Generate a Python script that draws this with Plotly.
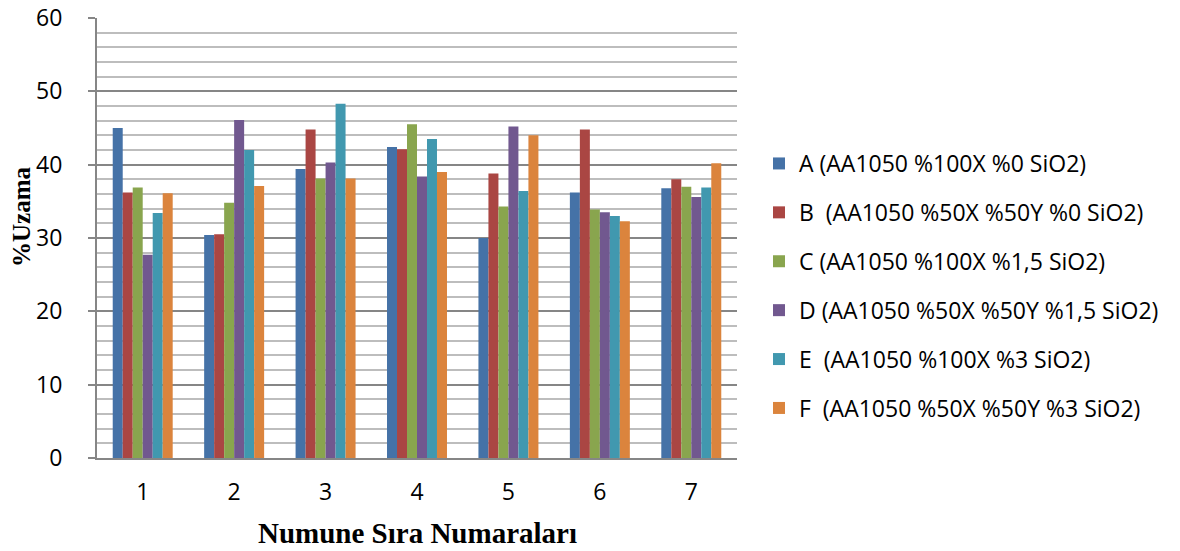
import plotly.graph_objects as go

categories = ["1", "2", "3", "4", "5", "6", "7"]
series_names = [
    "A (AA1050 %100X %0 SiO2)",
    "B  (AA1050 %50X %50Y %0 SiO2)",
    "C (AA1050 %100X %1,5 SiO2)",
    "D (AA1050 %50X %50Y %1,5 SiO2)",
    "E  (AA1050 %100X %3 SiO2)",
    "F  (AA1050 %50X %50Y %3 SiO2)",
]
A = [45.0, 30.4, 39.4, 42.4, 30.0, 36.2, 36.8]
B = [36.2, 30.5, 44.8, 42.1, 38.8, 44.8, 38.0]
C = [36.9, 34.8, 38.1, 45.5, 34.3, 33.9, 37.0]
D = [27.7, 46.1, 40.3, 38.4, 45.2, 33.5, 35.6]
E = [33.4, 42.0, 48.3, 43.5, 36.4, 33.0, 36.9]
F = [36.1, 37.1, 38.1, 39.0, 44.0, 32.3, 40.2]
colors = ["#4572A7", "#AA4643", "#89A54E", "#71588F", "#4198AF", "#DB843D"]

fig = go.Figure()
for name, vals, col, grp in zip(series_names, [A, B, C, D, E, F], colors, "ABCDEF"):
    fig.add_trace(go.Bar(
        x=categories, y=vals, name=name, legendgroup=grp,
        marker=dict(color=col, line=dict(width=0)),
    ))

L, T, PW, PH = 97, 18, 640, 440
W, H = 1180, 551

def px_x(x):  # page px -> paper
    return (x - L) / PW

def px_y(y):
    return (T + PH - y) / PH

fig.update_layout(
    width=W, height=H,
    margin=dict(l=L, r=W - L - PW, t=T, b=H - T - PH, autoexpand=False),
    paper_bgcolor="white", plot_bgcolor="white",
    barmode="group", bargap=0.344, bargroupgap=0,
    font=dict(family="Open Sans, sans-serif", color="#000000"),
    legend=dict(
        x=px_x(759), y=px_y(286), xanchor="left", yanchor="middle",
        font=dict(size=23, family="Open Sans, sans-serif", color="#000"),
        tracegroupgap=16, itemwidth=30,
        bgcolor="rgba(0,0,0,0)",
    ),
    xaxis=dict(
        automargin=False,
        showline=True, linecolor="#868686", linewidth=2,
        tickfont=dict(size=23, family="Open Sans, sans-serif", color="#000"),
        ticks="", ticklabelstandoff=12,
    ),
    yaxis=dict(
        automargin=False,
        range=[0, 60], dtick=10,
        showline=True, linecolor="#868686", linewidth=2,
        ticks="outside", ticklen=7, tickcolor="#868686", tickwidth=2,
        tickfont=dict(size=23, family="Open Sans, sans-serif", color="#000"),
        ticklabelstandoff=21, ticklabeloverflow="allow",
        showgrid=True, gridcolor="#868686", gridwidth=2,
        minor=dict(dtick=2, showgrid=True, gridcolor="#BDBDBD", gridwidth=2),
        zeroline=False,
    ),
    annotations=[
        dict(text="<b>Numune Sıra Numaraları</b>", xref="paper", yref="paper",
             x=px_x(417), y=px_y(533), xanchor="center", yanchor="middle",
             showarrow=False,
             font=dict(family="Liberation Serif, Times New Roman, serif", size=29, color="#000")),
        dict(text="<b>%Uzama</b>", xref="paper", yref="paper",
             x=px_x(21), y=px_y(217), xanchor="center", yanchor="middle",
             textangle=-90, showarrow=False,
             font=dict(family="Liberation Serif, Times New Roman, serif", size=25, color="#000")),
    ],
)

fig.write_html("out.html",
               config={"displayModeBar": False},
               post_script="document.body.style.margin='0';document.body.style.overflow='hidden';")
